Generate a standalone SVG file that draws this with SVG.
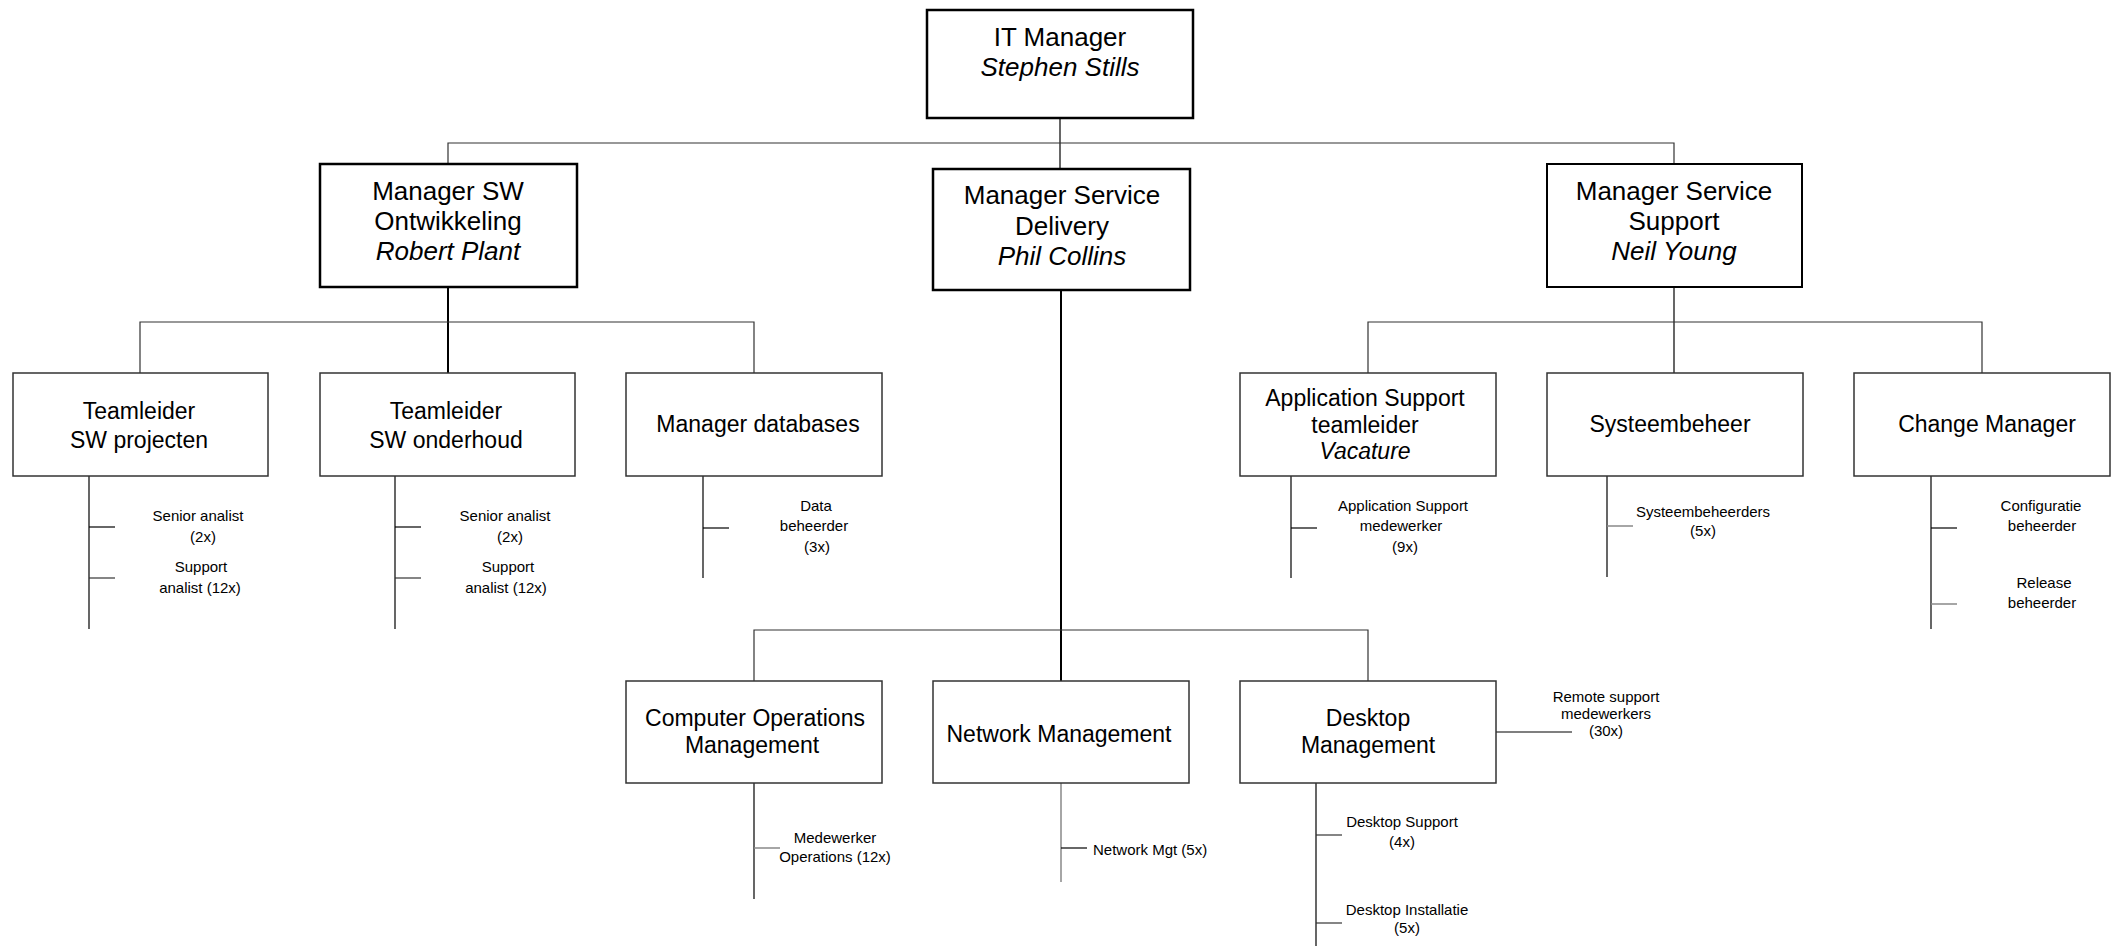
<svg xmlns="http://www.w3.org/2000/svg" width="2118" height="946" viewBox="0 0 2118 946">
<style>
  .top { fill:#fff; stroke:#000; stroke-width:2.5; }
  .box { fill:#fff; stroke:#333; stroke-width:1.5; }
  .t1 { font-family:"Liberation Sans", Arial, sans-serif; font-size:26px; fill:#000; text-anchor:middle; }
  .t2 { font-family:"Liberation Sans", Arial, sans-serif; font-size:23px; fill:#000; text-anchor:middle; }
  .t3 { font-family:"Liberation Sans", Arial, sans-serif; font-size:15px; fill:#000; text-anchor:middle; }
  .it { font-style:italic; }
  .c { stroke:#333; stroke-width:1.2; fill:none; }
  .ck { stroke:#000; stroke-width:2; fill:none; }
  .g { stroke:#888; stroke-width:1.5; fill:none; }
  .k { stroke:#000; stroke-width:1.2; fill:none; }
</style>
<rect width="2118" height="946" fill="#fff"/>
<g id="connectors">
  <line class="k" x1="1060" y1="118" x2="1060" y2="169"/>
  <polyline class="c" points="448,164 448,143 1674,143 1674,164"/>
  <line class="ck" x1="448" y1="287" x2="448" y2="373"/>
  <polyline class="c" points="140,373 140,322 754,322 754,373"/>
  <line class="k" x1="1674" y1="287" x2="1674" y2="373"/>
  <polyline class="c" points="1368,373 1368,322 1982,322 1982,373"/>
  <line class="ck" x1="1061" y1="290" x2="1061" y2="681"/>
  <polyline class="c" points="754,681 754,630 1368,630 1368,681"/>
  <line class="k" x1="89" y1="476" x2="89" y2="629"/>
  <line class="k" x1="89" y1="527" x2="115" y2="527"/>
  <line class="c" x1="89" y1="578" x2="115" y2="578"/>
  <line class="k" x1="395" y1="476" x2="395" y2="629"/>
  <line class="k" x1="395" y1="527" x2="421" y2="527"/>
  <line class="c" x1="395" y1="578" x2="421" y2="578"/>
  <line class="k" x1="703" y1="476" x2="703" y2="578"/>
  <line class="k" x1="703" y1="528" x2="729" y2="528"/>
  <line class="k" x1="1291" y1="476" x2="1291" y2="578"/>
  <line class="k" x1="1291" y1="528" x2="1317" y2="528"/>
  <line class="k" x1="1607" y1="476" x2="1607" y2="577"/>
  <line class="g" x1="1607" y1="526" x2="1633" y2="526"/>
  <line class="k" x1="1931" y1="476" x2="1931" y2="629"/>
  <line class="k" x1="1931" y1="528" x2="1957" y2="528"/>
  <line class="g" x1="1931" y1="604" x2="1957" y2="604"/>
  <line class="k" x1="754" y1="783" x2="754" y2="899"/>
  <line class="g" x1="754" y1="848" x2="780" y2="848"/>
  <line class="g" x1="1061" y1="783" x2="1061" y2="882"/>
  <line class="k" x1="1061" y1="848" x2="1087" y2="848"/>
  <line class="k" x1="1316" y1="783" x2="1316" y2="946"/>
  <line class="c" x1="1316" y1="835" x2="1342" y2="835"/>
  <line class="c" x1="1316" y1="923" x2="1342" y2="923"/>
  <line class="k" x1="1496" y1="732" x2="1572" y2="732"/>
</g>
<g id="it-manager">
  <rect class="top" x="927" y="10" width="266" height="108"/>
  <text class="t1" x="1060" y="46">IT Manager</text>
  <text class="t1 it" x="1060" y="76">Stephen Stills</text>
</g>
<g id="manager-sw">
  <rect class="top" x="320" y="164" width="257" height="123"/>
  <text class="t1" x="448" y="200">Manager SW</text>
  <text class="t1" x="448" y="230">Ontwikkeling</text>
  <text class="t1 it" x="448" y="260">Robert Plant</text>
</g>
<g id="manager-service-delivery">
  <rect class="top" x="933" y="169" width="257" height="121"/>
  <text class="t1" x="1062" y="204">Manager Service</text>
  <text class="t1" x="1062" y="235">Delivery</text>
  <text class="t1 it" x="1062" y="265">Phil Collins</text>
</g>
<g id="manager-service-support">
  <rect class="top" x="1547" y="164" width="255" height="123" style="stroke-width:2"/>
  <text class="t1" x="1674" y="200">Manager Service</text>
  <text class="t1" x="1674" y="230">Support</text>
  <text class="t1 it" x="1674" y="260">Neil Young</text>
</g>
<g id="teamleider-sw-projecten">
  <rect class="box" x="13" y="373" width="255" height="103"/>
  <text class="t2" x="139" y="419">Teamleider</text>
  <text class="t2" x="139" y="448">SW projecten</text>
  <text class="t3" x="198" y="521">Senior analist</text>
  <text class="t3" x="203" y="542">(2x)</text>
  <text class="t3" x="201" y="572">Support</text>
  <text class="t3" x="200" y="593">analist (12x)</text>
</g>
<g id="teamleider-sw-onderhoud">
  <rect class="box" x="320" y="373" width="255" height="103"/>
  <text class="t2" x="446" y="419">Teamleider</text>
  <text class="t2" x="446" y="448">SW onderhoud</text>
  <text class="t3" x="505" y="521">Senior analist</text>
  <text class="t3" x="510" y="542">(2x)</text>
  <text class="t3" x="508" y="572">Support</text>
  <text class="t3" x="506" y="593">analist (12x)</text>
</g>
<g id="manager-databases">
  <rect class="box" x="626" y="373" width="256" height="103"/>
  <text class="t2" x="758" y="432">Manager databases</text>
  <text class="t3" x="816" y="511">Data</text>
  <text class="t3" x="814" y="531">beheerder</text>
  <text class="t3" x="817" y="552">(3x)</text>
</g>
<g id="application-support">
  <rect class="box" x="1240" y="373" width="256" height="103"/>
  <text class="t2" x="1365" y="406">Application Support</text>
  <text class="t2" x="1365" y="433">teamleider</text>
  <text class="t2 it" x="1365" y="459">Vacature</text>
  <text class="t3" x="1403" y="511">Application Support</text>
  <text class="t3" x="1401" y="531">medewerker</text>
  <text class="t3" x="1405" y="552">(9x)</text>
</g>
<g id="systeembeheer">
  <rect class="box" x="1547" y="373" width="256" height="103"/>
  <text class="t2" x="1670" y="432">Systeembeheer</text>
  <text class="t3" x="1703" y="517">Systeembeheerders</text>
  <text class="t3" x="1703" y="536">(5x)</text>
</g>
<g id="change-manager">
  <rect class="box" x="1854" y="373" width="256" height="103"/>
  <text class="t2" x="1987" y="432">Change Manager</text>
  <text class="t3" x="2041" y="511">Configuratie</text>
  <text class="t3" x="2042" y="531">beheerder</text>
  <text class="t3" x="2044" y="588">Release</text>
  <text class="t3" x="2042" y="608">beheerder</text>
</g>
<g id="computer-operations">
  <rect class="box" x="626" y="681" width="256" height="102"/>
  <text class="t2" x="755" y="726">Computer Operations</text>
  <text class="t2" x="752" y="753">Management</text>
  <text class="t3" x="835" y="843">Medewerker</text>
  <text class="t3" x="835" y="862">Operations (12x)</text>
</g>
<g id="network-management">
  <rect class="box" x="933" y="681" width="256" height="102"/>
  <text class="t2" x="1059" y="742">Network Management</text>
  <text class="t3" x="1093" y="855" style="text-anchor:start">Network Mgt (5x)</text>
</g>
<g id="desktop-management">
  <rect class="box" x="1240" y="681" width="256" height="102"/>
  <text class="t2" x="1368" y="726">Desktop</text>
  <text class="t2" x="1368" y="753">Management</text>
  <text class="t3" x="1606" y="702">Remote support</text>
  <text class="t3" x="1606" y="719">medewerkers</text>
  <text class="t3" x="1606" y="736">(30x)</text>
  <text class="t3" x="1402" y="827">Desktop Support</text>
  <text class="t3" x="1402" y="847">(4x)</text>
  <text class="t3" x="1407" y="915">Desktop Installatie</text>
  <text class="t3" x="1407" y="933">(5x)</text>
</g>
</svg>
